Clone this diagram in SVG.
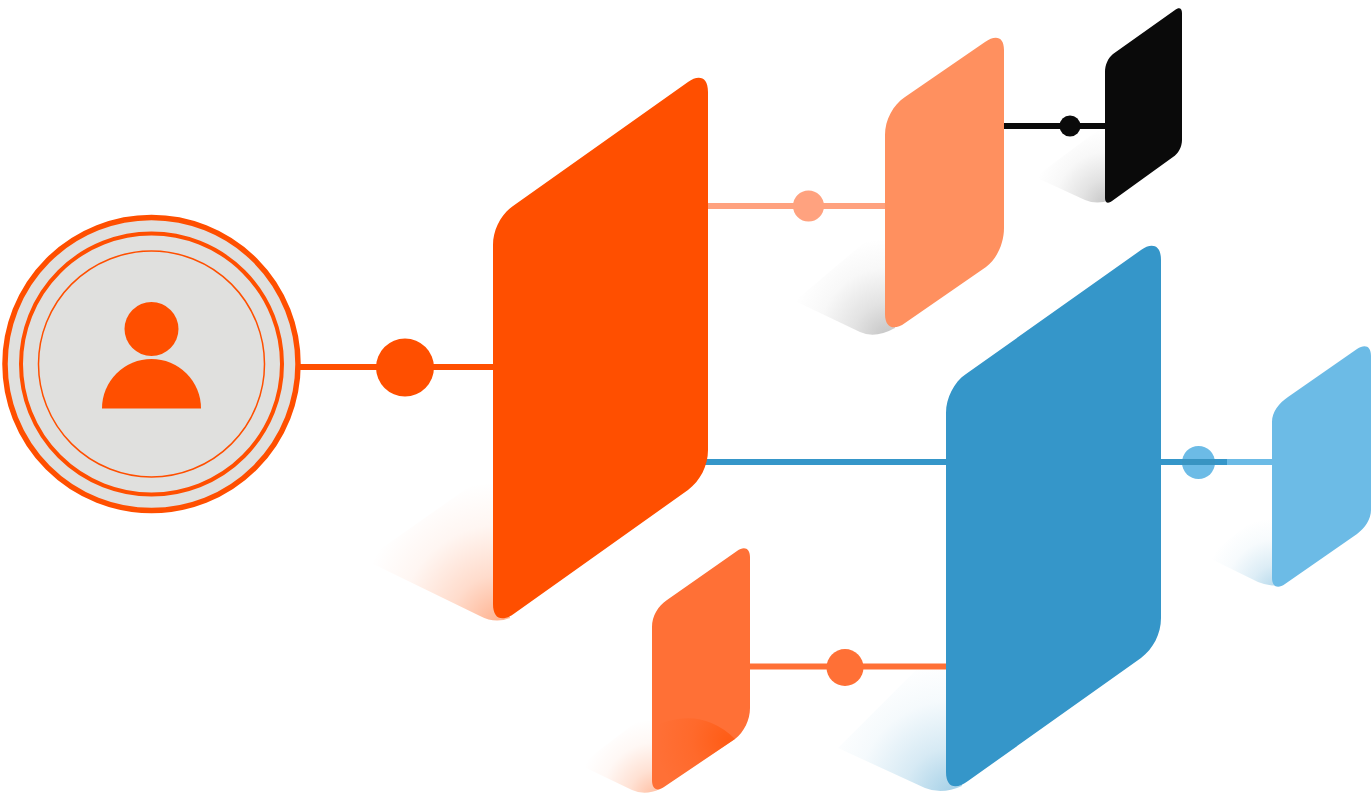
<svg xmlns="http://www.w3.org/2000/svg" width="1371" height="797" viewBox="0 0 1371 797">
<style>
.ring{fill:none;stroke:#ff4f00}
.conn{fill:none;stroke-width:6}
</style>
<defs>
<radialGradient id="sO" gradientUnits="userSpaceOnUse" cx="500" cy="625" r="143"><stop offset="0" stop-color="#ff4f00" stop-opacity=".45"/><stop offset=".35" stop-color="#ff4f00" stop-opacity=".2"/><stop offset=".7" stop-color="#ff4f00" stop-opacity=".05"/><stop offset="1" stop-color="#ff4f00" stop-opacity="0"/></radialGradient>
<radialGradient id="sB" gradientUnits="userSpaceOnUse" cx="952" cy="795" r="135"><stop offset="0" stop-color="#3596c9" stop-opacity=".45"/><stop offset=".35" stop-color="#3596c9" stop-opacity=".2"/><stop offset=".7" stop-color="#3596c9" stop-opacity=".05"/><stop offset="1" stop-color="#3596c9" stop-opacity="0"/></radialGradient>
<radialGradient id="sG" gradientUnits="userSpaceOnUse" cx="888" cy="338" r="100"><stop offset="0" stop-color="#111" stop-opacity=".25"/><stop offset=".35" stop-color="#111" stop-opacity=".12"/><stop offset=".7" stop-color="#111" stop-opacity=".03"/><stop offset="1" stop-color="#111" stop-opacity="0"/></radialGradient>
<radialGradient id="sK" gradientUnits="userSpaceOnUse" cx="1108" cy="205" r="76"><stop offset="0" stop-color="#111" stop-opacity=".25"/><stop offset=".35" stop-color="#111" stop-opacity=".12"/><stop offset=".7" stop-color="#111" stop-opacity=".03"/><stop offset="1" stop-color="#111" stop-opacity="0"/></radialGradient>
<radialGradient id="sL" gradientUnits="userSpaceOnUse" cx="1276" cy="590" r="72"><stop offset="0" stop-color="#3596c9" stop-opacity=".38"/><stop offset=".35" stop-color="#3596c9" stop-opacity=".17"/><stop offset=".7" stop-color="#3596c9" stop-opacity=".04"/><stop offset="1" stop-color="#3596c9" stop-opacity="0"/></radialGradient>
<radialGradient id="sS" gradientUnits="userSpaceOnUse" cx="656" cy="797" r="78"><stop offset="0" stop-color="#ff4f00" stop-opacity=".38"/><stop offset=".35" stop-color="#ff4f00" stop-opacity=".17"/><stop offset=".7" stop-color="#ff4f00" stop-opacity=".04"/><stop offset="1" stop-color="#ff4f00" stop-opacity="0"/></radialGradient>
<radialGradient id="inS" gradientUnits="userSpaceOnUse" cx="728" cy="740" r="72"><stop offset="0" stop-color="#ff4f00" stop-opacity=".6"/><stop offset=".5" stop-color="#ff4f00" stop-opacity=".2"/><stop offset="1" stop-color="#ff4f00" stop-opacity="0"/></radialGradient>
</defs>
<g id="shadows">
<path d="M365 560L480 616Q495 624 510 618L493 470Z" fill="url(#sO)"/>
<path d="M838 748L925 788Q942 795 962 786L946 640Z" fill="url(#sB)"/>
<path d="M795 301L860 332Q875 339 895 328L885 225Z" fill="url(#sG)"/>
<path d="M1035 177L1085 200Q1097 205 1110 200L1105 125Z" fill="url(#sK)"/>
<path d="M1207 557L1258 582Q1270 587 1282 585L1272 505Z" fill="url(#sL)"/>
<path d="M580 765L632 790Q645 796 660 789L652 710Z" fill="url(#sS)"/>
</g>
<g id="connectors">
<path class="conn" d="M300 367H493" stroke="#ff4f00"/>
<circle cx="405" cy="367.500" r="29" fill="#ff4f00"/>
<path class="conn" d="M708 206H885" stroke="#ffa27f"/>
<circle cx="808.500" cy="206" r="15.500" fill="#ffa27f"/>
<path class="conn" d="M1004 126H1105" stroke="#0a0a0a"/>
<circle cx="1070" cy="126" r="10.500" fill="#0a0a0a"/>
<path class="conn" d="M704 462H946" stroke="#3596c9"/>
<path class="conn" d="M750 666.500H946" stroke="#ff7036"/>
<circle cx="845" cy="667.500" r="18.500" fill="#ff7036"/>
<path class="conn" d="M1227 462H1272" stroke="#6cbbe6"/>
<circle cx="1198.500" cy="462.500" r="16.500" fill="#6cbbe6"/>
<path class="conn" d="M1161 462H1227" stroke="#3596c9"/>
<path class="conn" d="M1182 462H1215" stroke="#3a93c0" opacity=".8"/>
</g>
<g id="user">
<circle cx="151.500" cy="364" r="146.500" fill="#e0e0de" stroke="#ff4f00" stroke-width="5.500"/>
<circle class="ring" cx="151.500" cy="364" r="130.500" stroke-width="4"/>
<circle class="ring" cx="151.500" cy="364" r="113" stroke-width="1.500"/>
<circle cx="151.500" cy="329" r="27" fill="#ff4f00"/>
<path d="M102 408.500A49.500 49.500 0 0 1 201 408.500Z" fill="#ff4f00"/>
</g>
<g id="node-main">
<path d="M493 245C493 230 501 214 513 206L688 82C698 75 708 76 708 92V450C708 466 700 481 688 490L515 613C503 622 493 620 493 604Z" fill="#ff4f00"/>
</g>
<g id="node-peach">
<path d="M885 135C885 120 893 105 905 97L985 42C995 35 1004 36 1004 50V228C1004 243 997 259 986 267L905 323C894 331 885 328 885 314Z" fill="#ff905f"/>
</g>
<g id="node-black">
<path d="M1105 72C1105 65 1108 58 1113 54L1175 10C1179 7 1182 8 1182 13V140C1182 147 1178 154 1173 157L1112 201C1108 204 1105 203 1105 198Z" fill="#0a0a0a"/>
</g>
<g id="node-blue">
<path d="M946 413C946 398 954 382 966 374L1141 250C1151 243 1161 244 1161 260V618C1161 634 1153 649 1141 658L968 781C956 790 946 788 946 772Z" fill="#3596c9"/>
</g>
<g id="node-lightblue">
<path d="M1272 422C1272 412 1279 403 1288 397L1357 349C1365 344 1371 346 1371 356V510C1371 519 1365 528 1357 534L1285 584C1278 589 1272 587 1272 578Z" fill="#6cbbe6"/>
</g>
<g id="node-small">
<path d="M652 627C652 616 658 606 667 600L737 551C744 546 750 548 750 557V708C750 720 744 732 735 739L664 787C657 792 652 789 652 780Z" fill="#ff7036"/>
<path d="M652 760V727Q700 705 735 739L664 787C657 792 652 789 652 780Z" fill="url(#inS)"/>
</g>
</svg>
